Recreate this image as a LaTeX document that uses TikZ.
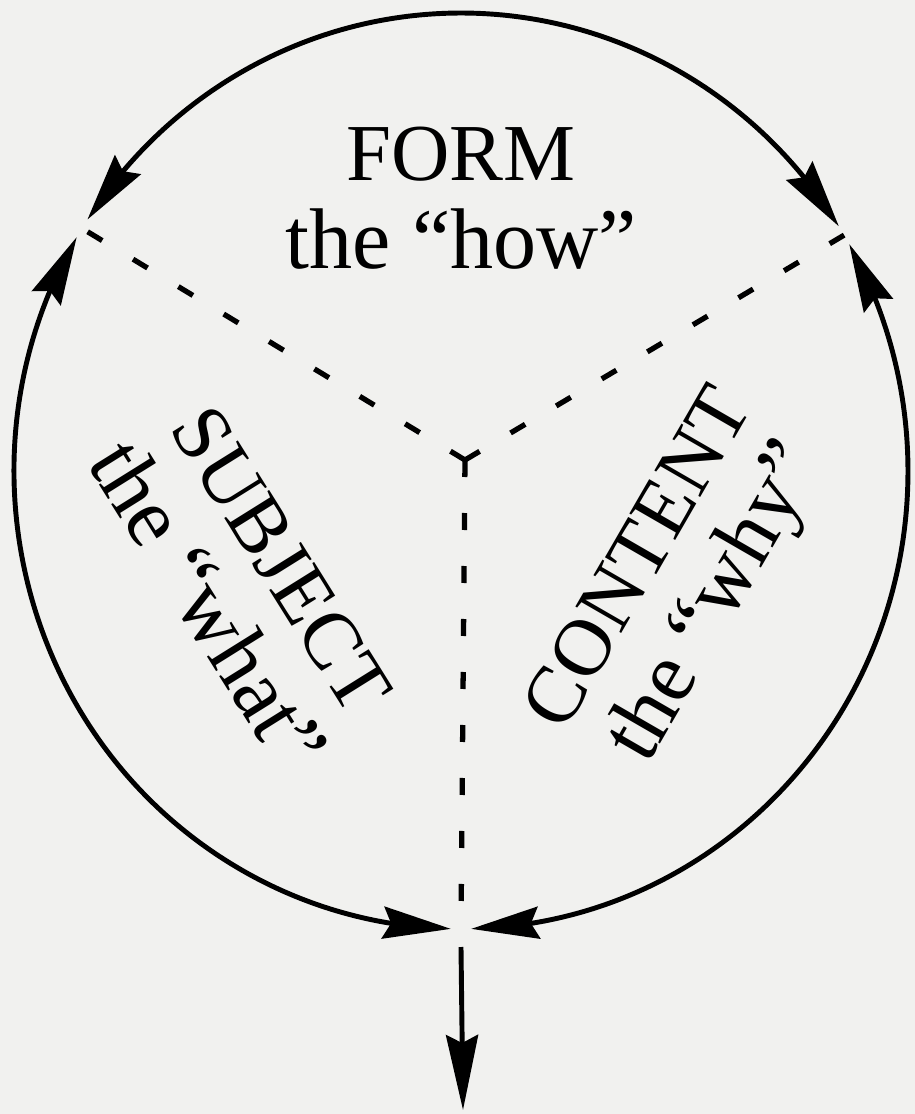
\documentclass[tikz,border=0pt]{standalone}
\usepackage{fontspec}
\setmainfont{Liberation Serif}
\usetikzlibrary{arrows.meta, bending}
\definecolor{paper}{RGB}{241,241,239}

\tikzset{
    >={Stealth[length=6.8mm, width=3.2mm, inset=0.8mm]},
    rim/.style={line width=1.4pt, <->},
    spoke/.style={line width=1.5pt, dash pattern=on 1.7mm off 3.6mm},
    bigtext/.style={font=\fontsize{23}{25}\selectfont, align=center, inner sep=0pt},
}
\newcommand{\lowline}{\fontsize{24.5}{25}\selectfont}

\begin{document}
\begin{tikzpicture}
    % 外圈的两个半径（照片里略扁）
    \def\ra{4.47}
    \def\rb{4.58}
    % 相邻两段弧之间留的空隙（角度）
    \def\gap{1.3}

    \fill[paper] (-4.61,4.71) rectangle (4.54,-6.43);
    \useasboundingbox (-4.61,4.71) rectangle (4.54,-6.43);

    % --- 宏：画一段外圈弧，两端都有箭头 ---
    \newcommand{\rimarc}[2]{
        \pgfmathsetmacro{\angA}{#1+\gap}
        \pgfmathsetmacro{\angB}{#2-\gap}
        \draw[rim] ({\ra*cos(\angA)},{\rb*sin(\angA)})
            arc[start angle=\angA, end angle=\angB, x radius=\ra, y radius=\rb];
    }

    % --- 中心与三个分界点 ---
    \coordinate (hub) at (0.04,0.11);
    \coordinate (pr) at (31:\ra cm and \rb cm);
    \coordinate (pl) at (148:\ra cm and \rb cm);
    \coordinate (pb) at (270:\ra cm and \rb cm);
    \coordinate (exit) at (0.02,-6.39);

    % --- 外圈三段弧 ---
    \rimarc{31}{148}
    \rimarc{148}{270}
    \rimarc{270}{391}

    % --- 从中心出发的三条虚线 ---
    \draw[spoke] (hub) -- (pl);
    \draw[spoke] (hub) -- (pr);
    \draw[spoke] (hub) -- (pb);

    % 向下的出口箭头
    \draw[line width=1.4pt, -{Stealth[length=7.5mm, width=3.2mm, inset=0.8mm]}]
        ([yshift=-1.8mm]pb) -- (exit);

    % --- 三个区域的文字 ---
    \node[bigtext] (form) at (0,2.73) {FORM\\\lowline the “how”};
    \node[bigtext, rotate=-58] (subject) at (-2.17,-1.12) {SUBJECT\\\lowline the “what”};
    \node[bigtext, rotate=60] (content) at (2.21,-1.12) {CONTENT\\\lowline the “why”};

\end{tikzpicture}
\end{document}
